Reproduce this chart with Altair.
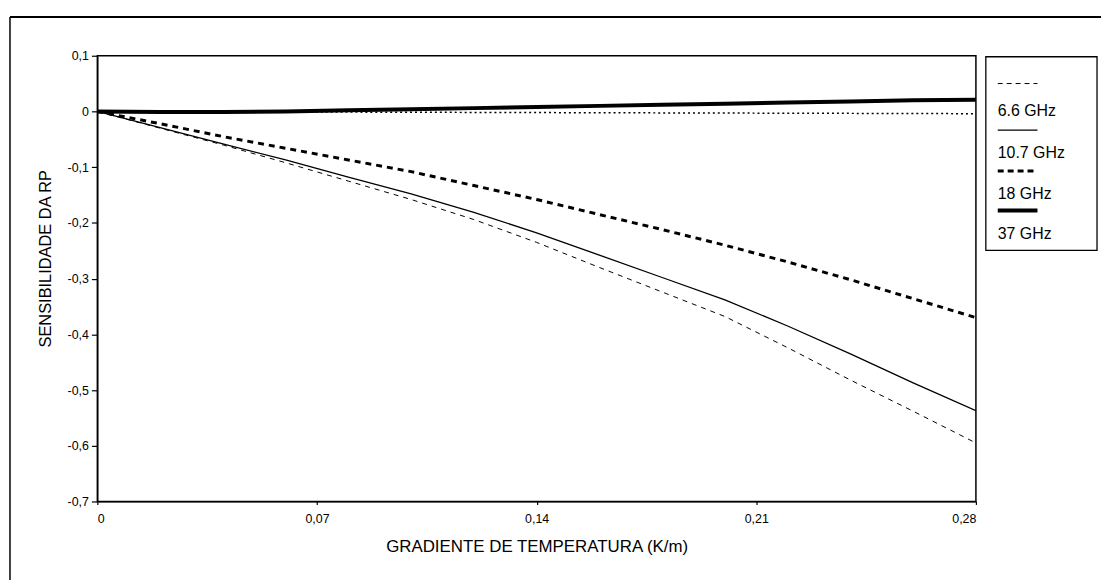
import altair as alt
import pandas as pd

# ---- data ----
x_vals = [0.0, 0.02, 0.04, 0.06, 0.08, 0.10, 0.12, 0.14, 0.16, 0.18, 0.20, 0.22, 0.24, 0.26, 0.28]
s_66 = [0, -0.030, -0.060, -0.092, -0.125, -0.158, -0.194, -0.235, -0.280, -0.324, -0.368, -0.424, -0.482, -0.538, -0.595]
s_107 = [0, -0.029, -0.058, -0.087, -0.118, -0.148, -0.181, -0.218, -0.258, -0.298, -0.338, -0.385, -0.435, -0.487, -0.537]
s_18 = [0, -0.022, -0.045, -0.066, -0.087, -0.108, -0.133, -0.158, -0.185, -0.212, -0.240, -0.270, -0.302, -0.336, -0.370]
s_37 = [0, -0.001, -0.001, 0.0, 0.002, 0.004, 0.006, 0.008, 0.010, 0.012, 0.014, 0.016, 0.018, 0.020, 0.021]
zero_x = [0.0, 0.28]
zero_y = [0.0, -0.004]
legend_labels = ["6.6 GHz", "10.7 GHz", "18 GHz", "37 GHz"]
x_ticks = [0, 0.07, 0.14, 0.21, 0.28]
y_ticks = [0.1, 0.0, -0.1, -0.2, -0.3, -0.4, -0.5, -0.6, -0.7]

FONT = "Liberation Sans"
W, H = 885, 449

xs = alt.Scale(domain=[0, 0.28], nice=False, zero=False)
ys = alt.Scale(domain=[-0.7, 0.1], nice=False, zero=False)

x_axis = alt.Axis(
    values=x_ticks, title="GRADIENTE DE TEMPERATURA (K/m)", grid=False,
    labelExpr="datum.value == 0 ? '0' : replace(format(datum.value, '.2f'), '.', ',')",
    tickSize=3, labelPadding=8, titleY=45, titleBaseline="middle", titleFontSize=17,
)
y_axis = alt.Axis(
    values=y_ticks, title="SENSIBILIDADE DA RP", grid=False,
    labelExpr="datum.value == 0 ? '0' : replace(replace(format(datum.value, '.1f'), '.', ','), '\u2212', '-')",
    tickSize=6, labelPadding=3,
    titleX=-47, titleY=204, titleAngle=270, titleAlign="center", titleBaseline="alphabetic",
    titleFontSize=16.5,
)


def series_df(yv):
    return pd.DataFrame({"x": x_vals, "y": yv})


def line(df, width, dash=None):
    kw = dict(color="black", strokeWidth=width, clip=True)
    if dash:
        kw["strokeDash"] = dash
    return alt.Chart(df).mark_line(**kw).encode(
        x=alt.X("x:Q", scale=xs, axis=x_axis),
        y=alt.Y("y:Q", scale=ys, axis=y_axis),
    )


zero_df = pd.DataFrame({"x": zero_x, "y": zero_y})

layers = [
    line(zero_df, 1.5, [2, 3]),
    line(series_df(s_66), 1, [5, 5]),
    line(series_df(s_107), 1.3),
    line(series_df(s_18), 3, [6, 5]),
    line(series_df(s_37), 4),
]

# ---- manual legend (symbol above label) ----
styles = [(1, [5, 4]), (1.3, None), (3, [6, 4]), (4, None)]
sym_y = [28, 75, 116, 156]
txt_y = [56, 98, 139, 180]
dummy = pd.DataFrame({"a": [0]})
legend_layers = [
    alt.Chart(dummy).mark_rect(fill=None, stroke="black", strokeWidth=1.3).encode(
        x=alt.value(895), x2=alt.value(1007), y=alt.value(1), y2=alt.value(196)
    )
]
for i, lab in enumerate(legend_labels):
    w, d = styles[i]
    kw = dict(color="black", strokeWidth=w)
    if d:
        kw["strokeDash"] = d
    legend_layers.append(
        alt.Chart(dummy).mark_rule(**kw).encode(
            x=alt.value(907), x2=alt.value(947), y=alt.value(sym_y[i])
        )
    )
    legend_layers.append(
        alt.Chart(dummy).mark_text(align="left", baseline="middle", font=FONT, fontSize=16, color="black").encode(
            x=alt.value(907), y=alt.value(txt_y[i]), text=alt.value(lab)
        )
    )

# ---- outer frame lines ----
frame = [
    alt.Chart(dummy).mark_rule(color="black", strokeWidth=2).encode(
        x=alt.value(-88), x2=alt.value(1011), y=alt.value(-39)
    ),
    alt.Chart(dummy).mark_rule(color="black", strokeWidth=1.5).encode(
        x=alt.value(-88), y=alt.value(-39), y2=alt.value(530)
    ),
]

chart = alt.layer(*layers, *legend_layers, *frame).properties(
    width=W, height=H,
    autosize=alt.AutoSizeParams(type="none"),
    padding={"left": 90, "top": 46, "right": 126, "bottom": 77},
    background="white",
).configure_view(
    stroke="black", strokeWidth=1.5
).configure_axis(
    domainColor="black", domainWidth=1.3, tickColor="black", tickWidth=1.2,
    labelFont=FONT, labelFontSize=12.5, labelColor="black",
    titleFont=FONT, titleFontWeight="normal", titleColor="black",
)

chart.save("out.html", embed_options={"renderer": "svg", "actions": False})
